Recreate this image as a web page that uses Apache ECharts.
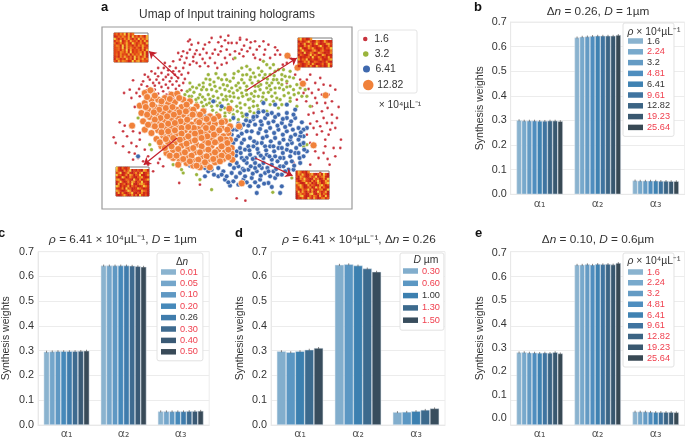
<!DOCTYPE html>
<html><head><meta charset="utf-8">
<style>html,body{margin:0;padding:0;background:#fff}#c{width:685px;height:440px}</style>
<script src="https://cdn.jsdelivr.net/npm/echarts@6/dist/echarts.min.js"></script>
</head><body><div id="c"></div>
<script>
// ---------- data ----------
const umapRed = [[295,125],[325,130],[280,155],[300,150],[320,152],[345,135],[365,115],[392,112],[415,108],[425,130],[440,130],[470,120],[495,125],[520,125],[555,143],[570,165],[590,190],[265,160],[250,185],[270,180],[290,175],[310,172],[330,165],[350,160],[375,150],[395,140],[410,150],[435,155],[455,150],[480,145],[500,150],[525,150],[540,175],[360,175],[385,165],[405,175],[430,178],[460,170],[490,165],[510,180],[300,195],[320,190],[345,190],[375,190],[395,195],[280,205],[258,205],[240,200],[225,190],[205,205],[185,215],[165,225],[215,220],[235,225],[255,225],[275,225],[295,220],[200,240],[220,240],[240,245],[260,245],[280,250],[180,240],[160,245],[130,242],[148,268],[172,260],[195,258],[215,262],[235,265],[258,268],[275,272],[125,295],[103,280],[135,322],[185,280],[205,282],[230,285],[250,295],[660,225],[630,240],[690,235],[720,258],[590,250],[655,268],[685,270],[715,285],[675,295],[705,310],[745,322],[640,280],[620,300],[665,320],[695,335],[725,345],[655,345],[680,365],[710,370],[735,385],[670,385],[695,395],[715,405],[680,405],[705,440],[750,445],[730,445],[685,475],[712,478],[718,495],[690,520],[660,430],[650,405],[105,378],[90,368],[128,378],[72,413],[78,430],[130,395],[150,420],[118,458],[135,462],[165,450],[145,475],[175,470],[205,490],[220,500],[240,470],[268,550],[330,555],[440,596],[466,603],[365,570],[640,545],[610,490],[660,495],[175,495],[150,400],[125,430],
[305,135],[340,148],[358,128],[385,128],[405,122],[450,115],[462,138],[482,128],[508,140],[535,135],[562,152],[275,170],[292,160],[315,163],[338,178],[368,162],[392,155],[420,165],[448,162],[472,155],[495,175],[522,165],[284,190],[310,185],[330,200],[355,200],[382,205],[410,190],[235,212],[250,215],[268,215],[222,205],[196,222],[175,232],[205,230],[228,232],[245,235],[265,235],[285,238],[190,250],[208,250],[228,255],[248,255],[268,258],[170,272],[155,255],[140,280],[120,270],[195,270],[220,275],[240,278],[262,282],[150,290],[600,175],[615,225],[650,240],[675,250],[700,255],[735,270],[665,280],[695,285],[725,305],[648,305],[680,310],[712,325],[740,355],[670,340],[700,355],[725,370],[690,380],[720,390],[660,372],[705,420],[700,460],[735,470],[675,455],[752,420],[100,395],[112,410],[140,440],[100,440],[130,480],[160,485],[190,515],[210,478],[450,120],[300,120],[415,130],[555,165],[578,195]];
const umapGreen = [[520,185],[550,195],[575,225],[470,200],[445,215],[490,220],[515,215],[540,225],[560,240],[600,215],[590,245],[610,270],[640,255],[625,280],[600,295],[580,270],[555,265],[530,250],[505,245],[480,240],[455,240],[430,235],[405,225],[385,235],[360,240],[340,250],[320,265],[300,270],[285,285],[305,290],[330,285],[350,270],[375,260],[400,255],[425,265],[450,265],[345,300],[370,290],[395,285],[420,290],[445,295],[470,285],[495,275],[520,280],[545,290],[570,300],[590,315],[565,325],[540,315],[515,305],[490,305],[465,315],[440,320],[415,315],[390,310],[365,320],[340,320],[320,310],[300,305],[380,340],[405,340],[430,345],[455,340],[480,335],[505,330],[530,335],[470,355],[445,360],[420,362],[395,360],[490,320],[420,245],[445,250],[470,260],[495,260],[360,255],[335,270],[355,285],[380,275],[405,270],[430,280],[455,280],[480,298],[505,290],[530,265],[555,280],[575,255],[600,260],[620,255],[545,250],[520,235],[495,232],[470,225],[585,230],[565,210],[540,205],[325,295],[350,315],[375,305],[400,300],[425,305],[450,310],[475,300],[640,440],[650,435],[660,320],[145,355],[180,435],[185,450],[250,495],[275,510],[320,525],[330,540],[365,570],[548,578],[605,535],[600,305],[620,320],[435,175],[410,300],[300,250],[645,270],[280,520],
[455,205],[480,210],[505,205],[530,195],[555,215],[580,210],[610,235],[432,222],[458,226],[482,232],[508,226],[532,238],[552,228],[395,240],[372,247],[348,238],[328,256],[308,262],[292,275],[312,278],[340,262],[365,270],[390,265],[412,258],[438,258],[462,250],[486,250],[512,255],[538,258],[565,250],[590,262],[612,285],[298,290],[318,300],[338,292],[360,298],[384,295],[408,290],[432,292],[458,290],[484,282],[510,270],[535,278],[560,295],[582,288],[335,308],[358,310],[382,318],[404,325],[428,330],[452,325],[478,325],[502,318],[528,300],[550,305],[575,315],[345,330],[368,332],[392,330],[418,338],[442,335],[465,345],[492,340],[405,350],[432,352],[458,350],[418,275],[442,272],[468,272],[492,290],[518,292],[542,270],[568,265],[595,280],[630,265],[635,290],[650,290],[378,222],[410,240],[355,225],[505,260],[550,240],[575,240],[525,225],[598,232]];
const umapBlue = [[520,335],[545,340],[565,345],[590,355],[615,355],[635,368],[650,385],[500,350],[525,355],[550,365],[575,370],[600,375],[625,385],[480,365],[460,375],[440,390],[425,405],[445,410],[470,395],[495,375],[515,375],[540,385],[565,390],[590,395],[615,405],[640,410],[430,430],[455,430],[480,415],[505,400],[530,410],[555,415],[580,420],[605,430],[630,435],[650,455],[440,455],[465,450],[490,440],[515,430],[540,440],[565,445],[590,450],[615,460],[640,470],[430,475],[455,475],[480,465],[505,460],[530,465],[555,470],[580,475],[605,485],[630,490],[420,495],[445,500],[470,490],[495,490],[520,490],[545,495],[570,500],[595,510],[400,515],[425,520],[450,520],[475,510],[500,515],[525,520],[550,515],[575,525],[345,505],[365,510],[385,505],[405,540],[430,545],[460,540],[485,535],[510,540],[535,550],[555,535],[345,530],[385,530],[420,558],[480,560],[505,560],[575,560],[500,580],[570,580],[300,498],[320,495],[290,490],[370,305],[395,320],[345,350],[520,310],[555,315],[590,315],[615,330],[470,345],[430,355],[395,370],[365,395],[350,380],[590,340],[630,410],[145,470],[640,390],[415,440],[600,420],[575,445],[550,440],[525,440],[500,430],[475,440],[450,445],[625,460],[600,470],[570,475],[545,480],[520,475],[495,475],[470,475],[440,490],[495,505],[465,530],[540,530],[515,505],[580,500],[610,510],
[505,338],[532,345],[555,352],[578,358],[603,365],[490,358],[512,365],[535,370],[562,378],[585,382],[608,390],[632,398],[452,385],[475,378],[455,402],[485,395],[510,388],[528,395],[552,400],[578,405],[602,412],[625,420],[438,420],[462,420],[492,425],[518,415],[542,425],[568,430],[592,435],[618,445],[642,450],[428,448],[452,460],[478,452],[502,448],[528,452],[552,455],[578,460],[602,455],[628,475],[438,468],[462,482],[488,478],[512,468],[538,470],[562,485],[588,490],[612,498],[432,505],[458,508],[482,500],[508,498],[532,505],[558,508],[585,515],[410,530],[438,532],[462,512],[488,522],[512,528],[535,515],[562,525],[372,525],[395,525],[355,515],[415,548],[445,555],[470,548],[495,548],[522,552],[545,562],[490,352],[468,362],[445,372],[428,390],[640,430],[610,345]];
const umapOrange = [[165,280],[185,275],[150,318],[165,310],[185,300],[205,300],[225,295],[245,285],[262,282],[280,300],[300,305],[320,320],[340,335],[360,350],[385,350],[405,365],[420,380],[155,340],[175,330],[195,322],[215,318],[235,312],[255,308],[275,322],[295,328],[315,342],[335,355],[355,370],[375,372],[395,385],[415,400],[160,365],[180,352],[200,345],[220,340],[240,335],[260,330],[280,345],[300,352],[320,365],[340,378],[360,392],[380,400],[400,410],[420,420],[165,390],[185,375],[205,368],[225,362],[245,358],[265,355],[285,368],[305,375],[325,388],[345,402],[365,415],[385,425],[405,435],[425,445],[185,400],[205,392],[225,385],[245,382],[265,378],[285,392],[305,400],[325,412],[345,425],[365,438],[385,450],[405,458],[425,462],[200,418],[220,408],[240,405],[260,402],[280,415],[300,425],[320,435],[340,448],[360,460],[380,470],[400,478],[215,440],[235,428],[255,428],[275,438],[295,448],[315,458],[335,470],[355,480],[375,488],[230,460],[250,452],[270,460],[290,470],[310,480],[330,490],[350,495],[250,475],[270,482],[290,490],[310,498],[330,503],[265,495],[127,378],[447,380],[418,327],[592,168],[622,204],[638,252],[706,287],[670,437],[455,551],[182,272],[427,480],[360,503],
[172,292],[195,288],[215,305],[240,298],[268,295],[290,315],[310,330],[330,345],[350,358],[372,358],[395,368],[412,390],[168,322],[188,315],[208,330],[228,325],[248,322],[268,338],[288,335],[308,345],[328,368],[348,385],[368,385],[388,392],[408,420],[172,345],[192,338],[212,355],[232,350],[252,345],[272,365],[292,360],[312,385],[332,398],[352,410],[372,405],[392,418],[412,430],[175,375],[195,360],[215,378],[235,372],[255,370],[275,385],[295,382],[315,402],[335,415],[355,430],[375,428],[395,440],[415,450],[195,380],[215,398],[235,395],[255,392],[275,402],[295,410],[315,422],[335,440],[355,450],[375,458],[395,468],[415,472],[210,428],[228,418],[250,415],[270,420],[290,432],[310,445],[330,458],[350,470],[370,478],[390,485],[225,445],[245,440],[265,448],[285,458],[305,468],[325,480],[345,488],[240,468],[260,468],[280,478],[300,485],[320,498]];
const inset1 = "4273654128367254316524273518264735241637425183624713526342716354827134265371824356271345263817243526173452817364253172436518273415263742513624731852463172548136274351627384152637415283647125364271835264173526481735";
const inset2 = "1302516207314028153024617301250384102637015420316207153802410362015740213508216403172053104826301750214308126401753021604832015730462105382016473012504382106374021583016240371250483021673041258301640273015824016";
const inset3 = "2014730261508314027162035810426130752014860321075403126083401275302186041370524013862071350428103675201483026175043812067301542083160247301850263104572018340261750438102635801472036158024731062580314207618305214";
const inset4 = "0315208417302561403782015264073182056340178203615401827305160284137052063481720356018427501360284715203684017253016840375102846031750268401573206148302751064832017350261840753016248035710263840157203618402751306";
const arrows = [[[265,235],[178,155]],[[470,272],[620,175]],[[262,415],[162,495]],[[495,475],[607,528]]];

const alphaLabels = ["α₁","α₂","α₃"];
const rhoLabels = ["1.6","2.24","3.2","4.81","6.41","9.61","12.82","19.23","25.64"];
const dnLabels = ["0.01","0.05","0.10","0.20","0.26","0.30","0.40","0.50"];
const dLabels = ["0.30","0.60","1.00","1.30","1.50"];
const bValues = [[.301,.299,.299,.299,.298,.298,.299,.299,.297],[.637,.640,.641,.643,.644,.644,.644,.644,.647],[.056,.055,.055,.055,.055,.054,.054,.053,.053]];
const cValues = [[.296,.297,.298,.298,.298,.298,.299,.300],[.644,.644,.644,.644,.644,.643,.641,.639],[.055,.055,.055,.055,.055,.056,.056,.057]];
const dValues = [[.298,.294,.298,.304,.311],[.647,.649,.644,.632,.619],[.052,.053,.056,.061,.067]];
const eValues = [[.293,.294,.292,.292,.291,.292,.291,.294,.289],[.647,.647,.649,.647,.650,.649,.650,.648,.654],[.054,.054,.054,.053,.052,.052,.052,.052,.051]];
const errHalf = 0.004;
const yTicks = 0.1;

const blue9 = ["#8ab3cf","#78a9cc","#649bc4","#4f8ebf","#3f82b2","#3f74a0","#3b6484","#395870","#384954"];
const blue8 = ["#8ab3cf","#74a6cb","#5f98c3","#4689ba","#3f7cac","#3e6b90","#3a5a75","#384a58"];
const blue5 = ["#82aecd","#5b97c3","#3c80b0","#3c6a8d","#384d5d"];
const RED = "#f0404f", DARK = "#333333";
const FONT = "Liberation Sans";

// ---------- layout ----------
const panels = [
 {id:"b",left:510.7,top:22,h:172.3,w:174,vals:bValues,cats:rhoLabels,colors:blue9,redIdx:[1,3,5,7,8],nameGap:25,
  leg:{left:623,top:23,pad:[13,4,4,5],swW:15,lh:10,gap:.8}},
 {id:"c",left:36.7,top:251.7,h:175,w:172.5,vals:cValues,cats:dnLabels,colors:blue8,redIdx:[0,1,2,3,5,6,7],nameGap:26,
  leg:{left:157,top:253,pad:[14,5,4,4],swW:15,lh:10,gap:1.4}},
 {id:"d",left:271,top:251.7,h:175,w:174,vals:dValues,cats:dLabels,colors:blue5,redIdx:[0,1,3,4],nameGap:25,
  leg:{left:400,top:253,pad:[13,4,5,3],swW:15,lh:10,gap:2.3}},
 {id:"e",left:510.7,top:251.7,h:175,w:174,vals:eValues,cats:rhoLabels,colors:blue9,redIdx:[0,1,2,3,4,5,6,7,8],nameGap:25,
  leg:{left:623,top:253,pad:[14,4,4,5],swW:15,lh:10,gap:.75}}
];

const grids=[], xAxes=[], yAxes=[], series=[], legends=[], graphics=[];
function axisPair(gridIdx,xa,ya){xAxes.push(Object.assign({gridIndex:gridIdx},xa));yAxes.push(Object.assign({gridIndex:gridIdx},ya));}
const hidden={show:false};

// panel a scatter
grids.push({left:102,top:27,width:250,height:182,show:true,borderColor:"#9a9a9a",borderWidth:1.2,backgroundColor:"#fff"});
axisPair(0,{type:"value",min:37,max:785,show:false,splitLine:hidden},{type:"value",min:82,max:628,inverse:true,show:false,splitLine:hidden});
const scat=[["1.6",umapRed,"#c8333d",2.8,.2],["3.2",umapGreen,"#9ab43c",3.6,.3],["6.41",umapBlue,"#3f69ae",4.8,.5],["12.82",umapOrange,"#f0813a",7,.6]];
scat.forEach(([n,d,c,s,b],i)=>series.push({type:"scatter",name:"a|"+n,xAxisIndex:0,yAxisIndex:0,data:d,symbolSize:s,z:2+i,
  itemStyle:{color:c,borderColor:"#fff",borderWidth:b,opacity:1},silent:true}));
series.push({type:"lines",coordinateSystem:"cartesian2d",xAxisIndex:0,yAxisIndex:0,polyline:false,z:8,symbol:["none","arrow"],symbolSize:[1,7],
  lineStyle:{color:"#c4202c",width:1.2,opacity:1,curveness:0},data:arrows.map(a=>({coords:a})),silent:true});

// inset heatmaps
const insetBoxes=[[114,33,34,29,inset1],[298,38,34,29,inset2],[116,167,33,29,inset3],[296,171,33,28,inset4]];
const heatIdx=[];
const cols=[...Array(17).keys()].map(String), rows=[...Array(13).keys()].map(String);
insetBoxes.forEach(([l,t,w,h,str])=>{
  const gi=grids.length;
  grids.push({left:l,top:t,width:w,height:h,show:true,borderColor:"#7d7d7d",borderWidth:1,z:5});
  axisPair(gi,{type:"category",data:cols,show:false},{type:"category",data:rows,show:false});
  const d=[];for(let r=0;r<13;r++)for(let c=0;c<17;c++)d.push([c,r,+str[r*17+c]]);
  heatIdx.push(series.length);
  series.push({type:"heatmap",xAxisIndex:gi,yAxisIndex:gi,data:d,z:9,silent:true,progressive:0});
});

// bar panels
const axisCol="#e8e8e8";
panels.forEach(p=>{
  const gi=grids.length;
  grids.push({left:p.left,top:p.top,width:p.w,height:p.h,show:true,borderColor:"#ececec",borderWidth:1});
  axisPair(gi,{type:"category",data:alphaLabels,axisTick:hidden,axisLine:{lineStyle:{color:axisCol}},
      axisLabel:{color:"#555",fontSize:11,fontFamily:"DejaVu Sans",margin:4}},
    {type:"value",min:0,max:.7,interval:yTicks,
      name:"Synthesis weights",nameLocation:"middle",nameGap:p.nameGap,nameTextStyle:{color:DARK,fontSize:10.5,fontFamily:FONT},
      axisLine:{show:true,lineStyle:{color:axisCol}},axisTick:hidden,splitLine:{lineStyle:{color:"#ececec",width:1}},
      axisLabel:{show:p.id!=="e",color:DARK,fontSize:10.8,fontFamily:FONT,margin:4,formatter:v=>v.toFixed(1)}});
  p.cats.forEach((cat,k)=>{
    series.push({type:"bar",name:p.id+"|"+cat,xAxisIndex:gi,yAxisIndex:gi,data:p.vals.map(v=>v[k]),barGap:0,barCategoryGap:"20%",
      itemStyle:{color:p.colors[k],borderColor:"#dfe7ee",borderWidth:.5},silent:true,z:2});
  });
  const ed=[];const n=p.cats.length;
  p.vals.forEach((v,c)=>v.forEach((val,k)=>ed.push([c,k,n,val+errHalf,val-errHalf])));
  series.push({type:"custom",xAxisIndex:gi,yAxisIndex:gi,data:ed,z:4,silent:true,encode:{x:0,y:3},
    renderItem:(params,api)=>{
      const band=api.size([1,0])[0], c=api.value(0), k=api.value(1), nn=api.value(2);
      const cx=api.coord([c,0])[0]-.4*band+(k+.5)*(.8*band/nn);
      const a=api.coord([c,api.value(3)])[1], b=api.coord([c,api.value(4)])[1];
      return {type:"line",shape:{x1:cx,y1:a,x2:cx,y2:b},style:{stroke:"#555",lineWidth:.7}};
    }});
  legends.push({left:p.leg.left,top:p.leg.top,orient:"vertical",padding:p.leg.pad,itemWidth:p.leg.swW,itemHeight:5.5,itemGap:p.leg.gap,
    backgroundColor:"#fff",borderColor:"#e2e2e2",borderWidth:1,borderRadius:2,selectedMode:false,z:20,
    itemStyle:{borderWidth:0},
    formatter:nm=>nm.split("|")[1],
    textStyle:{fontSize:9.2,fontFamily:FONT,lineHeight:p.leg.lh,padding:[0,0,0,-1]},
    data:p.cats.map((cat,k)=>({name:p.id+"|"+cat,icon:"rect",textStyle:{color:p.redIdx.includes(k)?RED:DARK}}))});
});

// separate tick-label axis for panel e (labels sit off the gridlines in the reference)
const gE=grids.length;
grids.push({left:510.7,top:253.3,width:174,height:165,show:false});
axisPair(gE,{type:"value",min:0,max:1,show:false,splitLine:hidden},
  {type:"value",min:0,max:.7,interval:yTicks,axisLine:hidden,axisTick:hidden,splitLine:hidden,
   axisLabel:{color:DARK,fontSize:10.8,fontFamily:FONT,margin:4,formatter:v=>v.toFixed(1)}});

// panel a legend: one legend per size
const aLegY=[39,54,69,85], aLegS=[4.5,5.5,7,10.5];
graphics.push({type:"rect",shape:{x:358,y:30,width:59,height:63,r:2},style:{fill:"#fff",stroke:"#e4e4e4",lineWidth:1},z:1});
scat.forEach(([n],i)=>legends.push({left:363,top:aLegY[i]-7,padding:0,itemWidth:14,itemHeight:aLegS[i],selectedMode:false,
  formatter:nm=>nm.split("|")[1],itemStyle:{borderWidth:0},
  textStyle:{fontSize:10.4,fontFamily:FONT,color:DARK,lineHeight:14,padding:[0,0,0,-3]},
  data:[{name:"a|"+n,icon:"circle"}]}));

// texts
const it={fontStyle:"italic",fontFamily:FONT,fontSize:12,color:DARK};
function T(text,x,y,size,opts){return Object.assign({text,left:x,top:y,padding:0,textAlign:"center",textVerticalAlign:"middle",
  textStyle:{fontFamily:FONT,fontSize:size,fontWeight:"normal",color:DARK,rich:{i:Object.assign({},it,{fontSize:size})}},z:30},opts||{});}
function Bold(t,x,y){return {text:t,left:x,top:y,padding:0,textAlign:"left",textVerticalAlign:"middle",textStyle:{fontFamily:FONT,fontSize:13,fontWeight:"bold",color:"#111"},z:30};}
const titles=[
 Bold("a",101,7),Bold("b",474,7),Bold("c",-2,233),Bold("d",235,233),Bold("e",475,233),
 T("Umap of Input training holograms",227,15,11.9),
 T("× 10⁴µL⁻¹",400,105,10.2),
 T("Δ{i|n} = 0.26, {i|D} = 1µm",598,12,11.8),
 T("{i|ρ} = 6.41 × 10⁴µL⁻¹, {i|D} = 1µm",123,240,11.8),
 T("{i|ρ} = 6.41 × 10⁴µL⁻¹, Δ{i|n} = 0.26",359,240,11.8),
 T("Δ{i|n} = 0.10, {i|D} = 0.6µm",598,240,11.8),
 T("{i|ρ} × 10⁴µL⁻¹",654,32,10.4),
 T("Δ{i|n}",182,262,10),
 T("{i|D} µm",426,260,10.4),
 T("{i|ρ} × 10⁴µL⁻¹",654,261,10.4)
];

const chart=echarts.init(document.getElementById("c"),null,{renderer:"canvas"});
chart.setOption({animation:false,backgroundColor:"#fff",tooltip:{show:false},
  title:titles,grid:grids,xAxis:xAxes,yAxis:yAxes,legend:legends,series,
  graphic:graphics,
  visualMap:{show:false,type:"continuous",min:0,max:8,seriesIndex:heatIdx,inRange:{color:["#c4201a","#d83316","#e85418","#f08a20","#f6cc40"]}}});
</script></body></html>
